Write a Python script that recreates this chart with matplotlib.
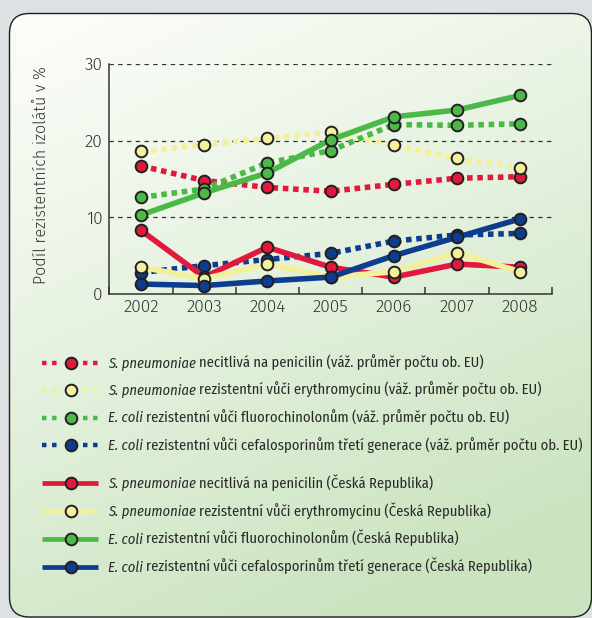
import numpy as np
import matplotlib
matplotlib.use("Agg")
import matplotlib.pyplot as plt
from matplotlib.patches import FancyBboxPatch
from matplotlib.lines import Line2D
from matplotlib.ticker import FixedLocator

# --- data: share of resistant isolates in % ---
years = [2002, 2003, 2004, 2005, 2006, 2007, 2008]

# EU weighted average (dotted)
eu_pen = [16.7, 14.8, 13.9, 13.4, 14.3, 15.1, 15.3]
eu_ery = [18.6, 19.5, 20.3, 21.1, 19.4, 17.7, 16.5]
eu_fq = [12.6, 13.7, 17.1, 18.7, 22.1, 22.0, 22.2]
eu_ceph = [2.8, 3.7, 4.5, 5.3, 6.9, 7.7, 7.9]

# Czech Republic (solid)
cz_pen = [8.3, 2.2, 6.1, 3.5, 2.2, 3.9, 3.5]
cz_ery = [3.5, 2.0, 3.9, 2.2, 2.9, 5.4, 2.9]
cz_fq = [10.3, 13.2, 15.8, 20.1, 23.1, 24.0, 25.9]
cz_ceph = [1.3, 1.1, 1.7, 2.2, 5.0, 7.4, 9.8]

y_ticks = [0, 10, 20, 30]
y_title = "Podíl rezistentních izolátů v %"

legend_eu = [
    ("S. pneumoniae", "necitlivá na penicilin (váž. průměr počtu ob. EU)"),
    ("S. pneumoniae", "rezistentní vůči erythromycinu (váž. průměr počtu ob. EU)"),
    ("E. coli", "rezistentní vůči fluorochinolonům (váž. průměr počtu ob. EU)"),
    ("E. coli", "rezistentní vůči cefalosporinům třetí generace (váž. průměr počtu ob. EU)"),
]
legend_cz = [
    ("S. pneumoniae", "necitlivá na penicilin (Česká Republika)"),
    ("S. pneumoniae", "rezistentní vůči erythromycinu (Česká Republika)"),
    ("E. coli", "rezistentní vůči fluorochinolonům (Česká Republika)"),
    ("E. coli", "rezistentní vůči cefalosporinům třetí generace (Česká Republika)"),
]

colors = ["#e2183d", "#f3f09c", "#4cb848", "#0c3d8e"]
edge = "#231f20"
ink = "#333333"
FONT = ["Fira Sans", "Open Sans", "DejaVu Sans"]
FONT_LEG = ["Fira Sans Condensed", "Fira Sans", "Open Sans", "DejaVu Sans"]

W, H = 592, 618


def fx(x):
    return x / W


def fy(y):
    return 1 - y / H


fig = plt.figure(figsize=(W / 100, H / 100), dpi=100, facecolor="#dde1e4")

# rounded panel with a white -> pale green diagonal gradient
bg = fig.add_axes([0, 0, 1, 1])
bg.set_xlim(0, W)
bg.set_ylim(H, 0)
bg.axis("off")
gx, gy = np.meshgrid(np.linspace(0, 1, 300), np.linspace(0, 1, 300))
t = np.clip(0.35 * gx + 0.8 * gy, 0, 1) ** 1.1
c0 = np.array([0xfd, 0xfe, 0xfb]) / 255
c1 = np.array([0xcb, 0xe4, 0xc0]) / 255
grad = c0 + (c1 - c0) * t[..., None]
panel_kw = dict(boxstyle="round,pad=0,rounding_size=20")
clip = FancyBboxPatch((9.5, 13.5), 582, 603.5, transform=bg.transData,
                      facecolor="none", edgecolor="none", **panel_kw)
bg.add_patch(clip)
im = bg.imshow(grad, extent=(0, W, H, 0), origin="upper", aspect="auto",
               interpolation="bilinear")
im.set_clip_path(clip)
bg.add_patch(FancyBboxPatch((9.5, 13.5), 582, 603.5, facecolor="none",
                            edgecolor="#1e1e1e", lw=1.0, **panel_kw))

# --- chart ---
ax = fig.add_axes([fx(109.4), fy(294), (551.7 - 109.4) / W, (294 - 64) / H])
ax.set_facecolor("none")
ax.set_xlim(2001.5, 2008.5)
ax.set_ylim(0, 30)

dotted = (0, (1.0, 0.85))
z = 3
for vals, c in zip([eu_pen, eu_ery, eu_fq, eu_ceph], colors):
    ax.plot(years, vals, color=c, lw=4.0, ls=dotted, dash_capstyle="butt",
            marker="o", ms=8.4, mfc=c, mec=edge, mew=1.4, clip_on=False, zorder=z)
    z += 1
for vals, c in zip([cz_pen, cz_ery, cz_fq, cz_ceph], colors):
    ax.plot(years, vals, color=c, lw=4.0, solid_capstyle="butt",
            marker="o", ms=8.4, mfc=c, mec=edge, mew=1.4, clip_on=False, zorder=z)
    z += 1

for s in ["top", "right"]:
    ax.spines[s].set_visible(False)
for s in ["left", "bottom"]:
    ax.spines[s].set_color(ink)
    ax.spines[s].set_linewidth(1.1)

ax.set_yticks(y_ticks)
for v in y_ticks[1:]:
    ax.axhline(v, color=ink, lw=0.9, ls=(0, (3.5, 3.5)), zorder=1)

ax.set_xticks(years)
ax.xaxis.set_minor_locator(FixedLocator(np.arange(2001.5, 2009, 1.0)))
ax.tick_params(axis="x", which="major", length=0, pad=4, labelsize=12.5, labelcolor=ink)
ax.tick_params(axis="x", which="minor", direction="in", length=5, width=1.1, color=ink)
ax.tick_params(axis="y", length=0, pad=5, labelsize=12.5, labelcolor=ink)
for lab in ax.get_xticklabels() + ax.get_yticklabels():
    lab.set_family(FONT)
    lab.set_fontweight(300)

fig.text(fx(42), fy(175), y_title, rotation=90, ha="center", va="center",
         fontsize=11.6, fontweight=300, color=ink, family=FONT)

# --- legend, drawn by hand: handle + italic species name + plain text ---
renderer = fig.canvas.get_renderer()
rows_y = [362.5, 390, 417.5, 445, 483, 510.5, 538.5, 566.5]
entries = [(lab, c, True) for lab, c in zip(legend_eu, colors)] + \
          [(lab, c, False) for lab, c in zip(legend_cz, colors)]
for (lab, c, is_eu), ry in zip(entries, rows_y):
    y = fy(ry)
    if is_eu:
        for x0, x1 in [(42.3, 56.9), (83.3, 97.9)]:
            fig.add_artist(Line2D([fx(x0), fx(x1)], [y, y], color=c, lw=3.2,
                                  ls=(0, (1.0, 1.27)), dash_capstyle="butt"))
    else:
        fig.add_artist(Line2D([fx(42), fx(98)], [y, y], color=c, lw=3.4,
                              solid_capstyle="butt"))
    fig.add_artist(Line2D([fx(70.5)], [y], marker="o", ms=8.4, mfc=c, mec=edge,
                          mew=1.4, ls="none"))
    t1 = fig.text(fx(108), fy(ry + 5), lab[0], fontsize=10.5, style="italic",
                  color="#2a2a2a", family=FONT_LEG, va="baseline")
    x_end = t1.get_window_extent(renderer).x1
    fig.text(fx(x_end + 3.5), fy(ry + 5), lab[1], fontsize=10.5, color="#2a2a2a",
             family=FONT_LEG, va="baseline")

fig.savefig("out.png", dpi=100, facecolor=fig.get_facecolor())
